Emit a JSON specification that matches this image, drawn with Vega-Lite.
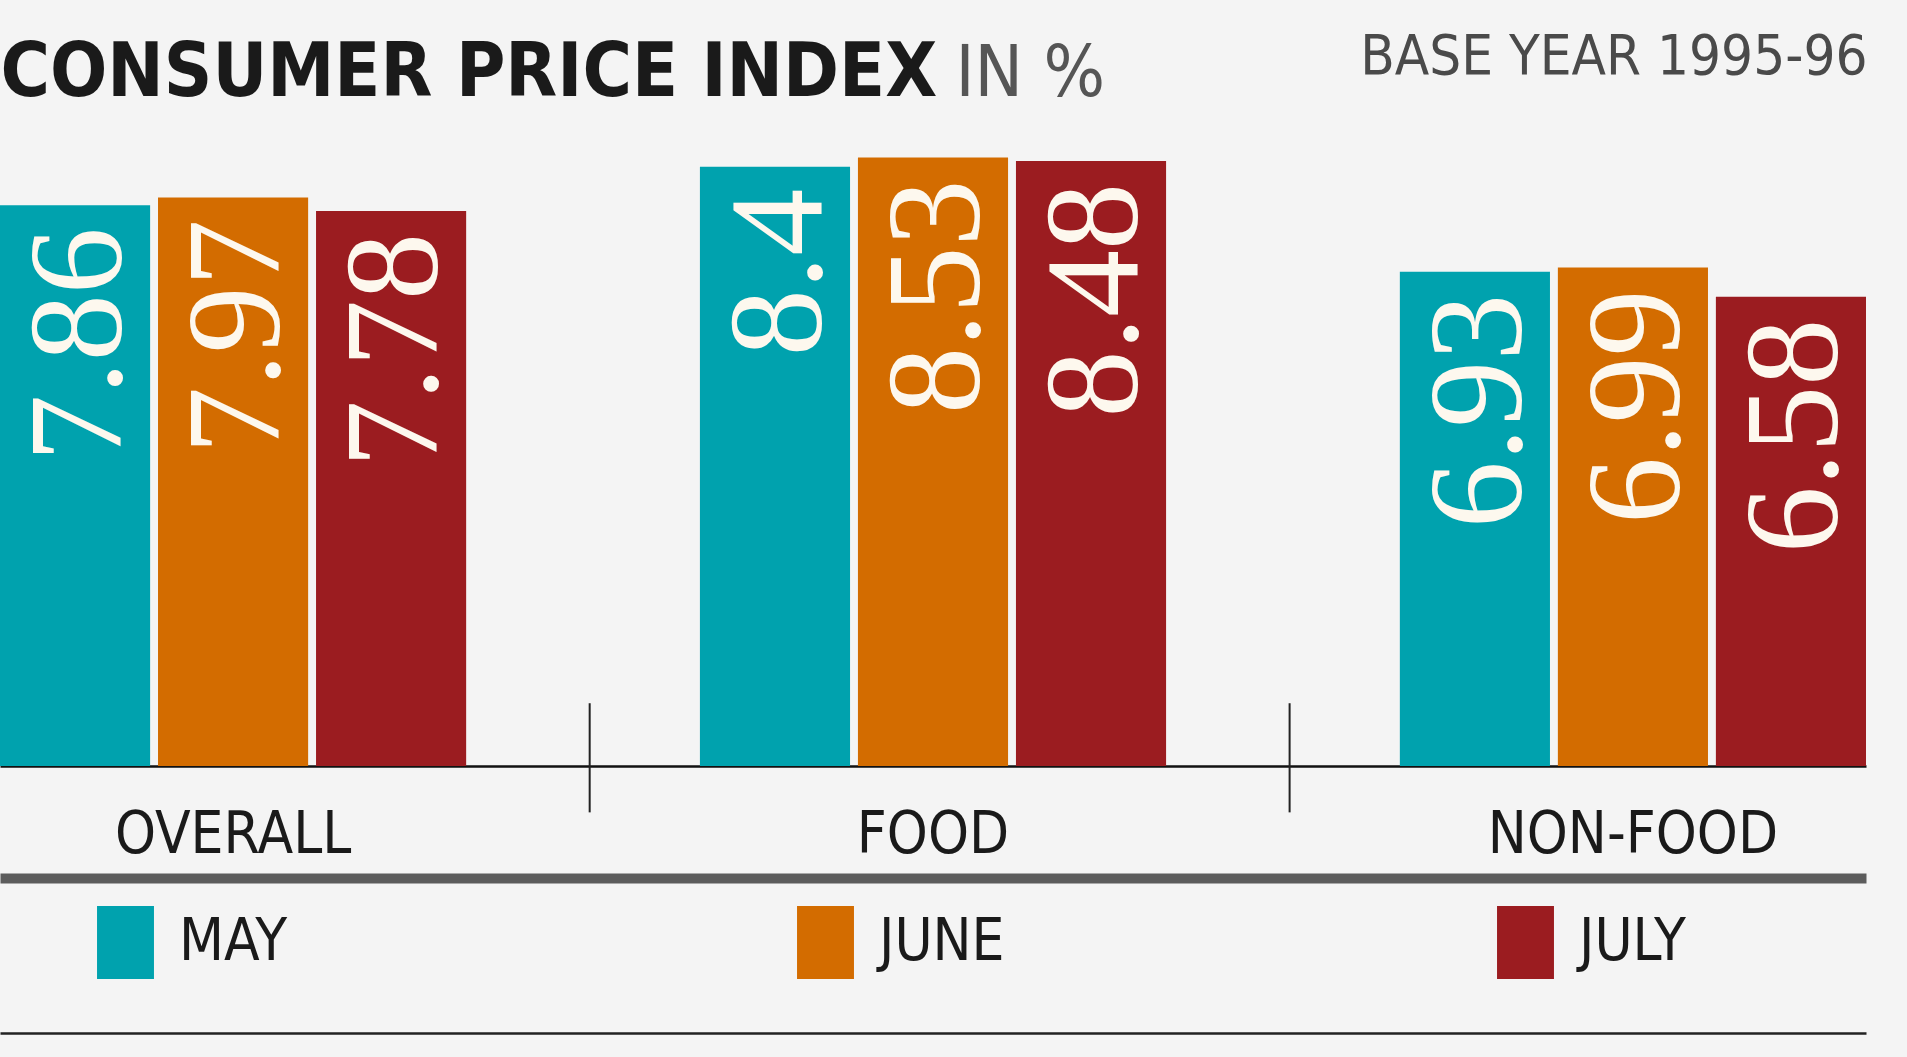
{
  "$schema": "https://vega.github.io/schema/vega-lite/v6.json",
  "width": 1866,
  "height": 642,
  "autosize": {"type": "none"},
  "padding": {"left": 0, "top": 124, "right": 41, "bottom": 291},
  "background": "#f4f4f4",
  "config": {"view": {"stroke": null}, "font": "DejaVu Sans Condensed, Liberation Sans, sans-serif", "axis": {"grid": false}},
  "data": {
    "values": [
      {"category": "OVERALL", "month": "MAY", "value": 7.86},
      {"category": "OVERALL", "month": "JUNE", "value": 7.97},
      {"category": "OVERALL", "month": "JULY", "value": 7.78},
      {"category": "FOOD", "month": "MAY", "value": 8.4},
      {"category": "FOOD", "month": "JUNE", "value": 8.53},
      {"category": "FOOD", "month": "JULY", "value": 8.48},
      {"category": "NON-FOOD", "month": "MAY", "value": 6.93},
      {"category": "NON-FOOD", "month": "JUNE", "value": 6.99},
      {"category": "NON-FOOD", "month": "JULY", "value": 6.58}
    ]
  },
  "resolve": {"axis": {"x": "independent", "y": "independent"}},
  "layer": [
    {
      "mark": {"type": "bar"},
      "encoding": {
        "x": {
          "field": "category", "type": "nominal",
          "scale": {"domain": ["OVERALL", "FOOD", "NON-FOOD"], "paddingInner": 0.334, "paddingOuter": 0},
          "axis": {
            "orient": "bottom", "title": null, "domain": true, "domainColor": "#111", "domainWidth": 2.5,
            "ticks": false, "tickSize": 0, "labelPadding": 40, "labelFontSize": 58, "labelColor": "#1a1a1a",
            "labelFont": "DejaVu Sans Condensed, Liberation Sans, sans-serif", "labelAngle": 0, "labelBaseline": "top", "labelLimit": 600
          }
        },
        "xOffset": {
          "field": "month", "type": "nominal",
          "scale": {"domain": ["MAY", "JUNE", "JULY"], "paddingInner": 0.05, "paddingOuter": 0}
        },
        "y": {
          "field": "value", "type": "quantitative",
          "scale": {"domain": [0, 9], "nice": false, "zero": true},
          "axis": {
            "orient": "left", "title": "IN %", "labels": false, "ticks": false, "domain": false, "grid": false,
            "titleAngle": 0, "titleX": 955, "titleY": -29, "titleAlign": "left", "titleBaseline": "alphabetic",
            "titleFontSize": 72, "titleFontWeight": "normal", "titleColor": "#555555",
            "titleFont": "DejaVu Sans Condensed, Liberation Sans, sans-serif", "titleLimit": 1000
          }
        },
        "color": {
          "field": "month", "type": "nominal",
          "scale": {"domain": ["MAY", "JUNE", "JULY"], "range": ["#00a2ae", "#d36c00", "#9b1c20"]},
          "legend": {
            "orient": "none", "legendX": 89, "legendY": 782, "direction": "horizontal", "columns": 3,
            "gridAlign": "all", "columnPadding": 484, "padding": 0, "title": null,
            "symbolType": "M-0.78,-1H0.78V1H-0.78Z", "symbolSize": 5329, "symbolStrokeWidth": 0,
            "symbolOpacity": 1, "labelFont": "DejaVu Sans Condensed, Liberation Sans, sans-serif", "labelFontSize": 58,
            "labelColor": "#1a1a1a", "labelOffset": 17, "labelLimit": 400
          }
        }
      }
    },
    {
      "mark": {
        "type": "text", "angle": 270, "align": "right", "baseline": "middle", "dx": -22, "dy": 6,
        "font": "Liberation Serif", "fontSize": 134, "color": "#fdf8ee"
      },
      "encoding": {
        "x": {
          "field": "category", "type": "nominal",
          "scale": {"domain": ["OVERALL", "FOOD", "NON-FOOD"]},
          "axis": {
            "orient": "bottom", "offset": 112, "title": null, "domain": true, "domainColor": "#5c5c5c",
            "domainWidth": 10, "labels": false, "ticks": false
          }
        },
        "xOffset": {"field": "month", "type": "nominal", "scale": {"domain": ["MAY", "JUNE", "JULY"]}},
        "y": {
          "field": "value", "type": "quantitative",
          "axis": {
            "orient": "right", "title": "BASE YEAR 1995-96", "labels": false, "ticks": false, "domain": false,
            "grid": false, "titleAngle": 0, "titleX": 1, "titleY": -51, "titleAlign": "right",
            "titleBaseline": "alphabetic", "titleFontSize": 56, "titleFontWeight": "normal",
            "titleColor": "#4a4a4a", "titleFont": "DejaVu Sans Condensed, Liberation Sans, sans-serif", "titleLimit": 1000
          }
        },
        "text": {"field": "value", "type": "quantitative"}
      }
    },
    {
      "data": {"values": [{"category": "OVERALL"}, {"category": "FOOD"}]},
      "mark": {"type": "rule", "color": "#222222", "strokeWidth": 2},
      "encoding": {
        "x": {
          "field": "category", "type": "nominal", "bandPosition": 1.265,
          "scale": {"domain": ["OVERALL", "FOOD", "NON-FOOD"]},
          "axis": {
            "orient": "bottom", "offset": 267, "title": null, "domain": true, "domainColor": "#222222",
            "domainWidth": 2.5, "labels": false, "ticks": false
          }
        },
        "y": {
          "datum": 0.88, "type": "quantitative",
          "axis": {
            "orient": "left", "title": "CONSUMER PRICE INDEX", "labels": false, "ticks": false, "domain": false,
            "grid": false, "titleAngle": 0, "titleX": 0, "titleY": -29, "titleAlign": "left",
            "titleBaseline": "alphabetic", "titleFontSize": 75, "titleFontWeight": "bold",
            "titleColor": "#1a1a1a", "titleFont": "DejaVu Sans Condensed, Liberation Sans, sans-serif", "titleLimit": 1200
          }
        },
        "y2": {"datum": -0.65}
      }
    }
  ]
}
